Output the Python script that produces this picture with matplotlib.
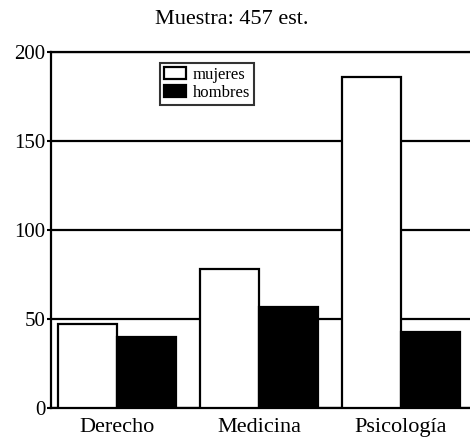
import numpy as np
import matplotlib
matplotlib.use("Agg")
import matplotlib.pyplot as plt

plt.rcParams['font.family'] = ['Liberation Serif', 'DejaVu Serif']

carreras = ["Derecho", "Medicina", "Psicología"]
mujeres = [47, 78, 186]
hombres = [40, 57, 43]
titulo = "Muestra: 457 est."

fig = plt.figure(figsize=(4.70, 4.37), dpi=100)
ax = fig.add_axes([0.1085, 0.066, 0.8915, 0.815])

x = np.arange(len(carreras))
w = 0.415
ax.bar(x - w / 2, mujeres, w, color='white', edgecolor='black', linewidth=1.6,
       label='mujeres', zorder=3)
ax.bar(x + w / 2, hombres, w, color='black', edgecolor='black', linewidth=1.6,
       label='hombres', zorder=3)

ax.set_ylim(0, 200)
ax.set_xlim(-0.465, 2.486)
ax.set_yticks([0, 50, 100, 150, 200])
ax.set_xticks(x)
ax.set_xticklabels(carreras)
ax.tick_params(axis='x', length=0, pad=7, labelsize=16)
ax.tick_params(axis='y', length=3, width=1.5, pad=1, labelsize=15)
ax.yaxis.grid(True, color='black', linewidth=1.6, zorder=0)
ax.set_axisbelow(True)

for s in ['left', 'top', 'bottom']:
    ax.spines[s].set_linewidth(1.6)
ax.spines['right'].set_visible(False)

fig.text(0.494, 0.955, titulo, fontsize=16, ha='center', va='center')

leg = ax.legend(loc='upper left', bbox_to_anchor=(0.26, 0.97), fontsize=12,
                frameon=True, fancybox=False, edgecolor='black',
                handlelength=1.3, handleheight=0.7, handletextpad=0.4,
                borderpad=0.25, labelspacing=0.1, borderaxespad=0)
leg.get_frame().set_linewidth(1.5)

fig.savefig("out.png", dpi=100)
